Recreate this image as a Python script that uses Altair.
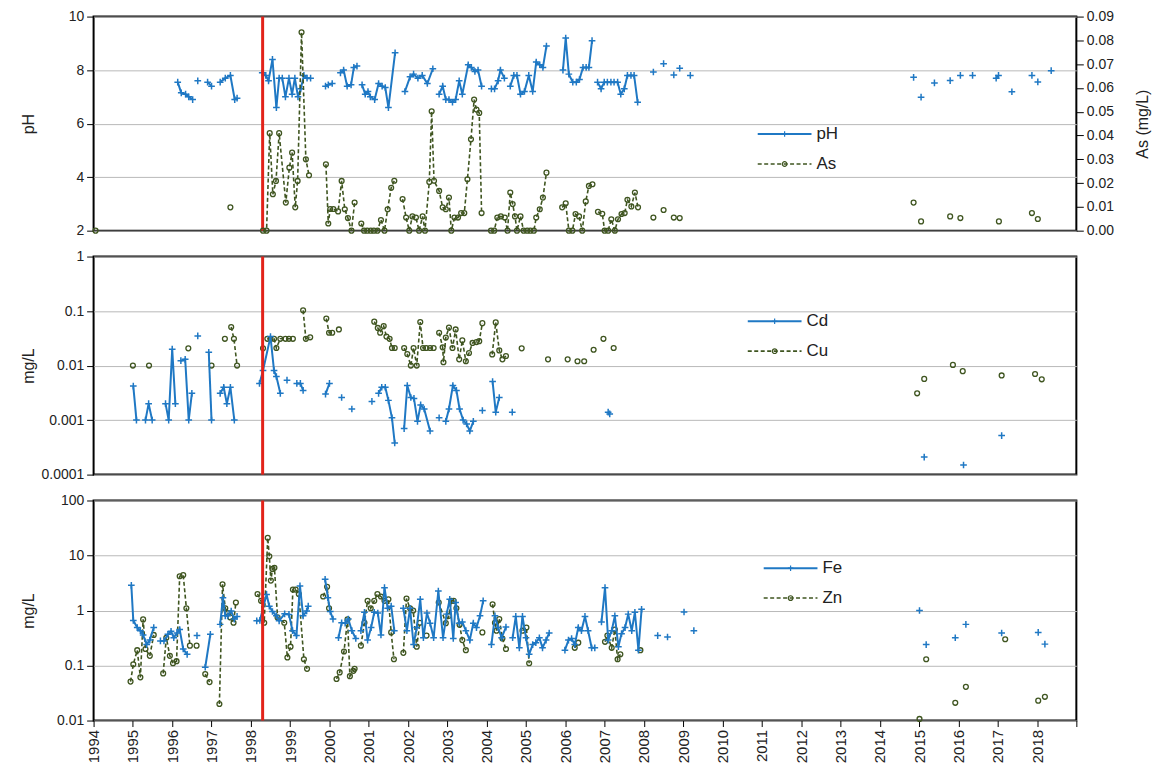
import altair as alt
import pandas as pd

# ---------------- data (year, value); each inner list is one connected run ----------------
PH = [
    [(1996.14, 7.55), (1996.23, 7.15), (1996.34, 7.1), (1996.42, 7.0), (1996.52, 6.9)],
    [(1996.65, 7.6)],
    [(1996.9, 7.55), (1997.0, 7.4)],
    [(1997.22, 7.55), (1997.35, 7.7), (1997.48, 7.8), (1997.59, 6.9), (1997.65, 6.95)],
    [(1998.29, 7.9), (1998.38, 7.8), (1998.45, 7.6), (1998.55, 8.4), (1998.65, 6.6), (1998.72, 7.7),
     (1998.8, 7.7), (1998.88, 7.0), (1998.97, 7.7), (1999.05, 7.1), (1999.12, 7.7), (1999.2, 7.0),
     (1999.27, 7.3), (1999.35, 7.8), (1999.43, 7.7), (1999.52, 7.7)],
    [(1999.9, 7.4), (1999.97, 7.45), (2000.07, 7.5)],
    [(2000.28, 7.9), (2000.36, 8.0), (2000.45, 7.4), (2000.55, 7.45), (2000.62, 8.1), (2000.7, 8.15)],
    [(2000.83, 7.45), (2000.91, 7.1), (2000.98, 7.2), (2001.04, 7.0), (2001.15, 6.9), (2001.25, 7.5),
     (2001.34, 7.4), (2001.42, 7.35), (2001.5, 6.6), (2001.67, 8.65)],
    [(2001.92, 7.2), (2002.05, 7.75), (2002.14, 7.85), (2002.25, 7.7), (2002.36, 7.8), (2002.49, 7.5),
     (2002.63, 8.05)],
    [(2002.79, 7.1), (2002.88, 7.4), (2002.96, 6.9), (2003.04, 6.9), (2003.13, 6.8), (2003.21, 6.9),
     (2003.3, 7.6), (2003.38, 7.1), (2003.53, 8.2), (2003.61, 8.1), (2003.7, 7.95), (2003.78, 8.0),
     (2003.87, 7.4)],
    [(2004.12, 7.3), (2004.2, 7.3), (2004.29, 7.6), (2004.35, 8.0), (2004.45, 7.7)],
    [(2004.6, 7.4), (2004.69, 7.8), (2004.77, 7.8), (2004.86, 7.1), (2004.96, 7.2), (2005.07, 7.8),
     (2005.17, 7.2), (2005.26, 8.3), (2005.35, 8.2), (2005.43, 8.1), (2005.52, 8.9)],
    [(2005.94, 8.0), (2006.01, 9.2), (2006.09, 7.85), (2006.19, 7.55), (2006.28, 7.55), (2006.36, 7.65),
     (2006.45, 8.1), (2006.53, 8.1), (2006.6, 8.1), (2006.68, 9.1)],
    [(2006.82, 7.55), (2006.91, 7.3), (2006.99, 7.55), (2007.07, 7.55), (2007.16, 7.55), (2007.24, 7.55),
     (2007.33, 7.55), (2007.41, 7.1), (2007.5, 7.3), (2007.58, 7.8), (2007.67, 7.8), (2007.75, 7.8),
     (2007.84, 6.8)],
    [(2008.24, 7.93)], [(2008.5, 8.24)], [(2008.76, 7.82)], [(2008.91, 8.07)], [(2009.18, 7.8)],
    [(2014.86, 7.73)], [(2015.05, 6.99)], [(2015.39, 7.52)], [(2015.79, 7.61)], [(2016.05, 7.8)],
    [(2016.36, 7.8)], [(2016.96, 7.7), (2017.02, 7.8)], [(2017.36, 7.19)], [(2017.87, 7.8)],
    [(2018.02, 7.56)], [(2018.36, 7.98)],
]

AS = [
    [(1994.05, 0.0)],
    [(1997.48, 0.0098)],
    [(1998.31, 0.0), (1998.4, 0.0), (1998.48, 0.041), (1998.56, 0.0153), (1998.64, 0.0209), (1998.72, 0.041),
     (1998.89, 0.0118), (1998.98, 0.0265), (1999.05, 0.0328), (1999.13, 0.0098), (1999.19, 0.0209),
     (1999.29, 0.0834), (1999.4, 0.030), (1999.48, 0.0233)],
    [(1999.91, 0.0279), (1999.97, 0.003), (2000.02, 0.0091), (2000.1, 0.0091), (2000.22, 0.0081),
     (2000.31, 0.0209), (2000.39, 0.009), (2000.47, 0.0053), (2000.56, 0.0), (2000.64, 0.0118)],
    [(2000.81, 0.003), (2000.88, 0.0), (2000.96, 0.0), (2001.05, 0.0), (2001.13, 0.0), (2001.22, 0.0),
     (2001.31, 0.0045), (2001.4, 0.0), (2001.48, 0.009), (2001.57, 0.018), (2001.65, 0.021)],
    [(2001.86, 0.0133), (2001.95, 0.0055), (2002.03, 0.0), (2002.11, 0.006), (2002.2, 0.0055),
     (2002.28, 0.0), (2002.37, 0.006), (2002.43, 0.0), (2002.54, 0.0205), (2002.6, 0.0502),
     (2002.66, 0.021), (2002.79, 0.0167), (2002.88, 0.0098), (2002.96, 0.009), (2003.04, 0.0139),
     (2003.1, 0.0), (2003.18, 0.0055), (2003.27, 0.0055), (2003.35, 0.0074), (2003.43, 0.0074),
     (2003.51, 0.0216), (2003.6, 0.0384), (2003.68, 0.0551), (2003.74, 0.0509), (2003.81, 0.0495),
     (2003.87, 0.0074)],
    [(2004.11, 0.0), (2004.19, 0.0), (2004.27, 0.0055), (2004.36, 0.006), (2004.46, 0.0055),
     (2004.53, 0.0), (2004.6, 0.016), (2004.66, 0.0112), (2004.72, 0.006), (2004.77, 0.0),
     (2004.86, 0.006), (2004.94, 0.0), (2005.03, 0.0), (2005.11, 0.0), (2005.2, 0.0), (2005.26, 0.0055),
     (2005.35, 0.009), (2005.43, 0.0139), (2005.52, 0.0244)],
    [(2005.92, 0.0098), (2006.01, 0.0115), (2006.09, 0.0), (2006.18, 0.0), (2006.26, 0.007),
     (2006.35, 0.006), (2006.43, 0.0), (2006.52, 0.0123), (2006.6, 0.0188), (2006.69, 0.0195)],
    [(2006.83, 0.0079), (2006.94, 0.0071), (2007.0, 0.0), (2007.09, 0.0), (2007.17, 0.0048),
     (2007.26, 0.0), (2007.34, 0.0048), (2007.43, 0.007), (2007.51, 0.0074), (2007.58, 0.013),
     (2007.68, 0.0102), (2007.77, 0.016), (2007.85, 0.0098)],
    [(2008.24, 0.0055)], [(2008.5, 0.0087)], [(2008.76, 0.0055)], [(2008.91, 0.0053)],
    [(2014.86, 0.0118)], [(2015.05, 0.0039)], [(2015.79, 0.006)], [(2016.05, 0.0053)],
    [(2017.03, 0.0039)], [(2017.87, 0.0074)], [(2018.02, 0.0049)],
]

CD = [
    [(1995.01, 0.0042), (1995.09, 0.001)],
    [(1995.32, 0.001), (1995.4, 0.002), (1995.49, 0.001)],
    [(1995.83, 0.002), (1995.91, 0.001), (1996.0, 0.02), (1996.08, 0.002)],
    [(1996.22, 0.0123), (1996.33, 0.013), (1996.42, 0.001), (1996.5, 0.0031)],
    [(1996.65, 0.035)],
    [(1996.93, 0.0175), (1997.0, 0.001)],
    [(1997.22, 0.0031), (1997.31, 0.004), (1997.39, 0.002), (1997.48, 0.004), (1997.58, 0.001)],
    [(1998.22, 0.0047), (1998.31, 0.0081), (1998.5, 0.034), (1998.59, 0.0081), (1998.65, 0.0063),
     (1998.75, 0.0031)],
    [(1998.92, 0.0054)],
    [(1999.17, 0.0047), (1999.26, 0.0047), (1999.33, 0.0035)],
    [(1999.9, 0.003), (2000.0, 0.0047)],
    [(2000.31, 0.0026)], [(2000.57, 0.0016)], [(2001.08, 0.0022)],
    [(2001.25, 0.0031), (2001.33, 0.004), (2001.42, 0.004), (2001.5, 0.0023), (2001.59, 0.0011),
     (2001.66, 0.00038)],
    [(2001.9, 0.0007), (2001.98, 0.0043), (2002.07, 0.0026), (2002.15, 0.0025), (2002.24, 0.00095),
     (2002.32, 0.0019), (2002.41, 0.0016), (2002.56, 0.00063)],
    [(2002.79, 0.0011)],
    [(2002.96, 0.00095), (2003.04, 0.0016), (2003.14, 0.0043), (2003.23, 0.0035), (2003.31, 0.0016),
     (2003.4, 0.001), (2003.49, 0.00085), (2003.57, 0.00063), (2003.66, 0.00095)],
    [(2003.89, 0.0015)],
    [(2004.15, 0.0051), (2004.23, 0.0014), (2004.32, 0.0026)],
    [(2004.65, 0.0014)],
    [(2007.09, 0.0014), (2007.13, 0.0013)],
    [(2015.13, 0.00021)], [(2016.13, 0.00015)], [(2017.1, 0.00052)],
]

CU = [
    [(1995.0, 0.01)], [(1995.41, 0.01)], [(1996.41, 0.0207)], [(1997.0, 0.01)], [(1997.34, 0.031)],
    [(1997.5, 0.051), (1997.57, 0.031), (1997.65, 0.01)],
    [(1998.31, 0.0207)],
    [(1998.42, 0.031), (1998.5, 0.031), (1998.59, 0.031), (1998.65, 0.021), (1998.75, 0.031),
     (1998.88, 0.031), (1998.97, 0.031), (1999.07, 0.031)],
    [(1999.33, 0.103), (1999.4, 0.031), (1999.51, 0.033)],
    [(1999.92, 0.073), (1999.99, 0.04), (2000.07, 0.04)],
    [(2000.24, 0.046)],
    [(2001.14, 0.064), (2001.23, 0.049), (2001.29, 0.04), (2001.38, 0.053), (2001.45, 0.034),
     (2001.53, 0.031), (2001.59, 0.021), (2001.66, 0.021)],
    [(2001.9, 0.021), (2001.98, 0.0163), (2002.07, 0.01), (2002.14, 0.021), (2002.22, 0.01),
     (2002.31, 0.063), (2002.38, 0.021), (2002.46, 0.021), (2002.56, 0.021), (2002.65, 0.021)],
    [(2002.79, 0.040), (2002.88, 0.0216), (2002.9, 0.0115), (2002.96, 0.0327), (2003.04, 0.05),
     (2003.13, 0.021), (2003.21, 0.046), (2003.3, 0.013), (2003.38, 0.029), (2003.47, 0.012),
     (2003.55, 0.017), (2003.64, 0.026), (2003.74, 0.027), (2003.81, 0.028), (2003.89, 0.06)],
    [(2004.14, 0.016), (2004.23, 0.062), (2004.32, 0.019), (2004.4, 0.013), (2004.49, 0.015)],
    [(2004.89, 0.0207)], [(2005.56, 0.013)], [(2006.06, 0.013)], [(2006.31, 0.012)], [(2006.48, 0.012)],
    [(2006.72, 0.0195)], [(2006.97, 0.031)], [(2007.23, 0.021)],
    [(2014.95, 0.0031)], [(2015.13, 0.0057)], [(2015.86, 0.0103)], [(2016.11, 0.0079)],
    [(2017.1, 0.0066)], [(2017.95, 0.007)], [(2018.12, 0.0056)],
]

FE = [
    [(1994.96, 2.87), (1995.01, 0.66), (1995.11, 0.49), (1995.19, 0.43), (1995.26, 0.36), (1995.35, 0.24),
     (1995.43, 0.29), (1995.53, 0.49)],
    [(1995.7, 0.28), (1995.79, 0.28), (1995.89, 0.37), (1995.97, 0.42), (1996.04, 0.32), (1996.12, 0.39),
     (1996.19, 0.45), (1996.28, 0.2), (1996.38, 0.16)],
    [(1996.63, 0.35)],
    [(1996.84, 0.093), (1996.97, 0.37)],
    [(1997.22, 0.56), (1997.29, 1.71), (1997.35, 0.8), (1997.41, 0.8), (1997.5, 0.98), (1997.58, 0.7),
     (1997.65, 0.78)],
    [(1998.15, 0.65), (1998.23, 0.66), (1998.4, 1.96), (1998.47, 1.2), (1998.55, 0.96), (1998.65, 0.8),
     (1998.72, 0.65), (1998.86, 0.87), (1998.97, 0.85), (1999.06, 0.43), (1999.16, 0.35), (1999.25, 2.8),
     (1999.33, 0.8), (1999.42, 0.98), (1999.46, 1.2)],
    [(1999.89, 3.7), (1999.96, 1.71), (2000.02, 0.96), (2000.09, 0.7)],
    [(2000.23, 0.32), (2000.31, 0.6), (2000.4, 0.59), (2000.48, 0.7), (2000.57, 0.43), (2000.67, 0.31)],
    [(2000.8, 0.43), (2000.89, 0.93), (2000.97, 0.29), (2001.06, 0.49), (2001.14, 0.93), (2001.23, 0.9),
     (2001.31, 0.36), (2001.4, 2.6), (2001.48, 1.1), (2001.57, 1.2), (2001.65, 0.43)],
    [(2001.88, 1.1), (2001.97, 0.43), (2002.05, 1.1), (2002.14, 0.24), (2002.22, 0.49), (2002.31, 1.6),
     (2002.39, 0.32), (2002.48, 0.9), (2002.56, 0.59), (2002.65, 0.32), (2002.77, 2.26), (2002.89, 0.32),
     (2002.98, 0.86), (2003.06, 1.6), (2003.15, 0.31), (2003.21, 1.4), (2003.3, 0.59), (2003.38, 0.62),
     (2003.47, 0.43), (2003.57, 0.29), (2003.66, 0.59), (2003.74, 0.49), (2003.83, 0.8), (2003.91, 1.5)],
    [(2004.12, 0.24), (2004.21, 0.8), (2004.29, 0.49), (2004.38, 0.32), (2004.49, 0.5)],
    [(2004.66, 0.32), (2004.74, 0.78), (2004.83, 0.21), (2004.91, 0.78), (2005.0, 0.32), (2005.08, 0.16),
     (2005.17, 0.24), (2005.25, 0.26), (2005.34, 0.32), (2005.42, 0.21), (2005.51, 0.29), (2005.59, 0.39)],
    [(2005.99, 0.19), (2006.08, 0.29), (2006.16, 0.31), (2006.24, 0.24), (2006.33, 0.49), (2006.41, 0.43),
     (2006.5, 0.78), (2006.58, 0.43), (2006.67, 0.21), (2006.75, 0.21)],
    [(2006.92, 0.62), (2007.01, 2.6), (2007.09, 0.29), (2007.18, 0.43), (2007.26, 0.8), (2007.35, 0.22),
     (2007.43, 0.38), (2007.52, 0.49), (2007.6, 0.86), (2007.69, 0.43), (2007.77, 0.93), (2007.86, 0.19),
     (2007.94, 1.05)],
    [(2008.35, 0.35)], [(2008.6, 0.33)], [(2009.02, 0.94)], [(2009.27, 0.43)],
    [(2015.01, 1.0)], [(2015.18, 0.24)], [(2015.92, 0.32)], [(2016.19, 0.56)], [(2017.1, 0.39)],
    [(2018.03, 0.4)], [(2018.2, 0.245)],
]

ZN = [
    [(1994.94, 0.051), (1995.01, 0.105), (1995.11, 0.19), (1995.19, 0.061), (1995.26, 0.69), (1995.32, 0.2),
     (1995.43, 0.15), (1995.53, 0.36)],
    [(1995.77, 0.072), (1995.85, 0.32), (1995.94, 0.15), (1996.02, 0.11), (1996.11, 0.12), (1996.19, 4.2),
     (1996.28, 4.4), (1996.36, 1.1), (1996.45, 0.23)],
    [(1996.62, 0.23)],
    [(1996.84, 0.07), (1996.95, 0.05)],
    [(1997.2, 0.02), (1997.28, 3.0), (1997.35, 1.1), (1997.42, 0.9), (1997.48, 0.75), (1997.56, 0.6),
     (1997.62, 1.4)],
    [(1998.17, 2.0), (1998.26, 1.5), (1998.34, 0.6), (1998.43, 21.0), (1998.47, 9.7), (1998.51, 3.5),
     (1998.55, 5.7), (1998.6, 6.0), (1998.68, 0.75), (1998.85, 0.6), (1998.93, 0.14), (1999.01, 0.22),
     (1999.07, 2.4), (1999.14, 2.4), (1999.22, 2.0), (1999.35, 0.13), (1999.43, 0.087)],
    [(1999.84, 1.8), (1999.94, 2.7), (1999.99, 1.1)],
    [(2000.18, 0.057), (2000.26, 0.075), (2000.37, 0.18), (2000.46, 0.69), (2000.52, 0.064),
     (2000.61, 0.08), (2000.64, 0.087)],
    [(2000.8, 0.23), (2000.89, 0.6), (2000.97, 1.5), (2001.05, 1.1), (2001.14, 1.5), (2001.22, 2.0),
     (2001.31, 1.8), (2001.4, 1.5), (2001.5, 1.6), (2001.57, 0.4), (2001.64, 0.13)],
    [(2001.88, 0.17), (2001.96, 1.65), (2002.05, 1.1), (2002.13, 1.0), (2002.22, 0.22), (2002.3, 0.6)],
    [(2002.47, 0.35)],
    [(2002.78, 1.4), (2002.96, 0.59), (2003.04, 0.8), (2003.1, 1.5), (2003.16, 1.5), (2003.23, 1.1),
     (2003.31, 0.55), (2003.38, 0.29), (2003.47, 0.19)],
    [(2003.89, 0.4)],
    [(2004.15, 1.3), (2004.21, 0.6), (2004.25, 0.43), (2004.32, 0.7), (2004.4, 0.31), (2004.49, 0.2)],
    [(2004.91, 0.43), (2005.01, 0.49), (2005.08, 0.11)],
    [(2006.24, 0.21), (2006.33, 0.26)],
    [(2007.01, 0.27), (2007.07, 0.35), (2007.18, 0.21), (2007.26, 0.45), (2007.33, 0.13), (2007.4, 0.16)],
    [(2007.91, 0.19)],
    [(2015.01, 0.0107)], [(2015.18, 0.13)], [(2015.92, 0.021)], [(2016.19, 0.041)], [(2017.19, 0.3)],
    [(2018.03, 0.023)], [(2018.2, 0.027)],
]

EVENT_YEAR = [1998.3]
YEARS = list(range(1994, 2020))
PH_TICKS = [2, 4, 6, 8, 10]
AS_TICKS = [0.0, 0.01, 0.02, 0.03, 0.04, 0.05, 0.06, 0.07, 0.08, 0.09]
MID_TICKS = [0.0001, 0.001, 0.01, 0.1, 1]
BOT_TICKS = [0.01, 0.1, 1, 10, 100]

# ---------------- styling ----------------
BLUE = "#1f78c4"
OLIVE = "#3f5520"
RED = "#e2231a"
FONT = "Liberation Sans"
PLUS = "M-1,0L1,0M0,-1L0,1"
W = 987
H1, H2, H3 = 215, 219, 221


def frame(segs):
    rows = []
    for i, seg in enumerate(segs):
        for t, v in seg:
            rows.append({"t": t, "v": v, "seg": i})
    return pd.DataFrame(rows)


XS = alt.Scale(domain=[1994, 2019], nice=False, zero=False)


def xenc(axis):
    return alt.X("t:Q", scale=XS, axis=axis, title=None)


def left_axis(values, title, h, fmt=None):
    kw = dict(values=values, title=title, grid=True, gridColor="#b8b8b8", gridWidth=1,
              domain=False, tickSize=7, tickColor="black", labelPadding=3,
              titleAngle=270, titleX=-65, titleY=h / 2, titleBaseline="middle", titleAlign="center")
    if fmt:
        kw["format"] = fmt
    return alt.Axis(**kw)


def series(df, y, blue, xaxis=None):
    if blue:
        line = alt.Chart(df).mark_line(color=BLUE, strokeWidth=2)
        pts = alt.Chart(df).mark_point(shape=PLUS, color=BLUE, size=45, strokeWidth=1.5, filled=False, opacity=1)
    else:
        line = alt.Chart(df).mark_line(color=OLIVE, strokeWidth=1.6, strokeDash=[4, 2.5])
        pts = alt.Chart(df).mark_point(shape="circle", color=OLIVE, size=24, strokeWidth=1.3, filled=False, opacity=1)
    return [line.encode(x=xenc(xaxis), y=y, detail="seg:N"), pts.encode(x=xenc(xaxis), y=y)]


def event_rule(xaxis=None):
    return alt.Chart(pd.DataFrame({"t": EVENT_YEAR})).mark_rule(color=RED, strokeWidth=3).encode(x=xenc(xaxis))


def legend(lx, ly, n1, n2):
    one = pd.DataFrame({"a": [0]})
    parts = []
    for k, (name, blue) in enumerate([(n1, True), (n2, False)]):
        y = ly + k * 30
        if blue:
            ln = alt.Chart(one).mark_rule(color=BLUE, strokeWidth=2)
            pt = alt.Chart(one).mark_point(shape=PLUS, color=BLUE, size=30, strokeWidth=1.2, filled=False, opacity=1)
        else:
            ln = alt.Chart(one).mark_rule(color=OLIVE, strokeWidth=1.6, strokeDash=[4, 2.5])
            pt = alt.Chart(one).mark_point(shape="circle", color=OLIVE, size=22, strokeWidth=1.2, filled=False, opacity=1)
        parts.append(ln.encode(x=alt.value(lx), x2=alt.value(lx + 54), y=alt.value(y)))
        parts.append(pt.encode(x=alt.value(lx + 27), y=alt.value(y)))
        parts.append(alt.Chart(one).mark_text(text=name, align="left", baseline="middle", fontSize=17,
                                              font=FONT, color="#222").encode(x=alt.value(lx + 59), y=alt.value(y)))
    return parts


# ---------------- top panel: pH + As ----------------
y_ph = alt.Y("v:Q", scale=alt.Scale(domain=[2, 10], nice=False, zero=False),
             axis=left_axis(PH_TICKS, "pH", H1))
y_as = alt.Y("v:Q", scale=alt.Scale(domain=[0, 0.09], nice=False, zero=False),
             axis=alt.Axis(orient="right", values=AS_TICKS, format=".2f", title="As (mg/L)", grid=False,
                           domain=False, tickSize=7, tickColor="black", labelPadding=3,
                           titleAngle=270, titleX=66, titleY=H1 / 2, titleBaseline="middle", titleAlign="center"))

ph_layer = alt.layer(*series(frame(PH), y_ph, True), event_rule(), *legend(667, 118, "pH", "As"))
as_layer = alt.layer(*series(frame(AS), y_as, False))
top = alt.layer(ph_layer, as_layer).resolve_scale(y="independent").properties(width=W, height=H1)

# ---------------- middle panel: Cd + Cu ----------------
y_mid = alt.Y("v:Q", scale=alt.Scale(type="log", domain=[0.0001, 1], nice=False),
              axis=left_axis(MID_TICKS, "mg/L", H2, fmt="~g"))
mid = alt.layer(*series(frame(CU), y_mid, False), *series(frame(CD), y_mid, True), event_rule(),
                *legend(657, 65, "Cd", "Cu")).properties(width=W, height=H2)

# ---------------- bottom panel: Fe + Zn ----------------
x_axis = alt.Axis(values=YEARS, format="d", labelAngle=270, labelAlign="right", labelBaseline="middle",
                  labelExpr="datum.value < 2019 ? datum.label : ''", grid=False, domain=False,
                  tickSize=6, tickColor="black", labelPadding=3, labelFontSize=15)
y_bot = alt.Y("v:Q", scale=alt.Scale(type="log", domain=[0.01, 100], nice=False),
              axis=left_axis(BOT_TICKS, "mg/L", H3, fmt="~g"))
bot = alt.layer(*series(frame(ZN), y_bot, False, x_axis), *series(frame(FE), y_bot, True, x_axis),
                event_rule(x_axis), *legend(673, 68, "Fe", "Zn")).properties(width=W, height=H3)

chart = alt.vconcat(top, mid, bot, spacing=10).properties(
    padding={"left": 20, "top": 7, "right": 5, "bottom": 3}
).configure_view(
    stroke="black", strokeWidth=2
).configure_axis(
    labelFont=FONT, titleFont=FONT, labelFontSize=14, titleFontSize=16, titleFontWeight="normal",
    labelColor="#222", titleColor="#222"
)

chart.save("out.html", embed_options={"renderer": "svg", "actions": False})
